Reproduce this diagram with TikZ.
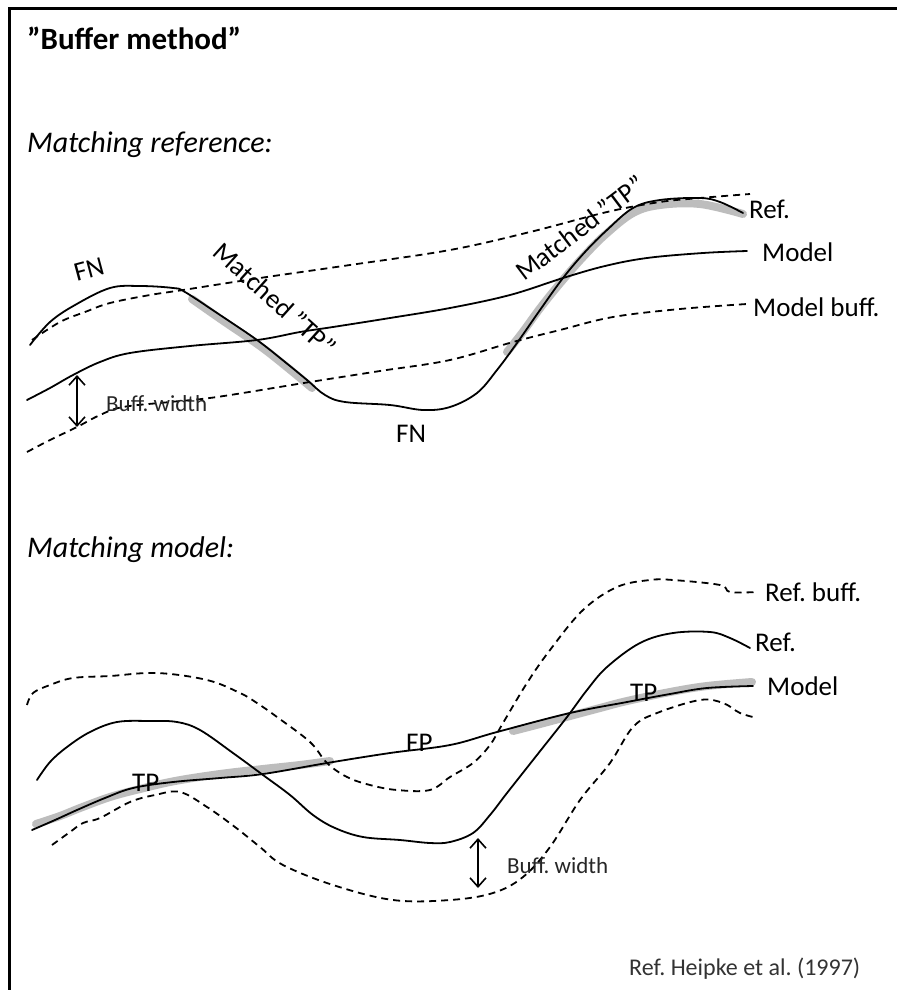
\documentclass[tikz,border=0pt]{standalone}
\usepackage{fontspec}
\setmainfont{Carlito}
\usetikzlibrary{arrows.meta}
\frenchspacing
\tikzset{
  curve/.style={line width=1.8pt, line join=round, line cap=round},
  dashcurve/.style={line width=1.8pt, dash pattern=on 7pt off 5pt},
  hilite/.style={line width=8pt, color=black!26, line cap=round, line join=round},
  lbl/.style={anchor=base west, inner sep=0pt, font=\fontsize{27}{30}\selectfont},
  rlbl/.style={inner sep=0pt, font=\fontsize{27}{30}\selectfont},
  small/.style={anchor=base west, inner sep=0pt, font=\fontsize{23}{25}\selectfont, text=black!85},
  bw/.style={line width=1.6pt, {Straight Barb[length=9pt,width=16pt]}-{Straight Barb[length=9pt,width=16pt]}}
}
\begin{document}
\begin{tikzpicture}[x=1pt,y=-1pt]
\useasboundingbox (0,0) rectangle (897,990);
\fill[white] (0,0) rectangle (897,990);
% frame
\draw[line width=3pt] (8,9) -- (897,9);
\draw[line width=3pt] (9,8) -- (9,990);

% titles
\node[anchor=base west, inner sep=0pt, font=\bfseries\fontsize{31}{34}\selectfont] (title) at (27,49) {”Buffer method”};
\node[anchor=base west, inner sep=0pt, font=\itshape\fontsize{30}{33}\selectfont] (sub1) at (27,152) {Matching reference:};
\node[anchor=base west, inner sep=0pt, font=\itshape\fontsize{30}{33}\selectfont] (sub2) at (27,557) {Matching model:};

% ---------- top panel ----------
% gray highlights
\draw[hilite] plot[smooth, tension=0.6] coordinates {(192,299) (222,320) (260,346) (288,368) (312,388)};
\draw[hilite] plot[smooth, tension=0.6] coordinates {(507,352) (522,333) (541,307) (562,281) (584,256) (606,234) (633,213) (660,205) (700,204) (743,214)};
% model buffer upper
\draw[dashcurve] plot[smooth, tension=0.6] coordinates {(32,340) (60,322) (85,312) (110,303) (150,295) (183,290) (260,278) (350,265) (450,250) (530,232) (607,212) (660,202) (700,198) (750,194)};
% model buffer lower
\draw[dashcurve] plot[smooth, tension=0.6] coordinates {(27,452) (50,440) (77,427) (100,415) (123,407) (170,402) (217,397) (310,382) (380,371) (450,360) (513,342) (560,330) (613,317) (680,309) (747,304)};
% model
\draw[curve] plot[smooth, tension=0.6] coordinates {(27,400) (50,388) (73,375) (100,362) (130,353) (190,346) (257,340) (300,332) (333,327) (390,318) (450,308) (510,295) (563,278) (605,266) (647,258) (703,253) (747,251)};
% reference
\draw[curve] plot[smooth, tension=0.6] coordinates {(30,345) (50,322) (75,305) (110,288) (140,286) (173,288) (185,292) (220,315) (257,340) (285,362) (307,380) (325,395) (345,402) (390,405) (423,410) (450,407) (477,393) (497,370) (517,343) (540,310) (563,278) (585,252) (607,230) (633,208) (660,200) (700,198) (720,202) (743,213)};
% buffer width arrow
\coordinate (bwa1) at (77,375);
\coordinate (bwa2) at (77,427);
\draw[bw] (bwa1) -- (bwa2);

% labels
\node[rlbl, rotate=15] (fn1) at (89,269) {FN};
\node[rlbl, rotate=-42] (mtp1) at (275,299) {Matched ”TP”};
\node[rlbl, rotate=37] (mtp2) at (580,228) {Matched ”TP”};
\node[lbl] (ref1) at (749,218) {Ref.};
\node[lbl] (mod1) at (762,261) {Model};
\node[lbl] (mb1) at (753,316) {Model buff.};
\node[small] (bw1) at (106,411) {Buff. width};
\node[lbl] (fn2) at (396,442) {FN};

% ---------- bottom panel ----------
% gray highlights on model
\draw[hilite] plot[smooth, tension=0.6] coordinates {(36,824) (60,816) (80,808) (110,797) (140,789) (175,781) (220,774) (263,769) (300,765) (330,761)};
\draw[hilite] plot[smooth, tension=0.6] coordinates {(513,731) (540,724) (570,716) (600,708) (627,701) (670,692) (707,686) (752,682)};
% ref buffer upper
\draw[dashcurve] plot[smooth, tension=0.6] coordinates {(27,705) (33,693) (50,685) (73,678) (110,676) (157,673) (207,680) (240,693) (257,703) (277,717) (310,742) (327,763) (347,777) (370,785) (397,790) (430,790) (450,777) (473,763) (490,745) (503,723) (527,683) (550,650) (583,610) (617,587) (650,580) (673,580) (720,585) (730,592) (757,592)};
% ref buffer lower
\draw[dashcurve] plot[smooth, tension=0.6] coordinates {(52,845) (70,832) (83,823) (100,818) (130,802) (155,795) (180,792) (207,807) (235,827) (260,847) (283,865) (333,885) (393,900) (450,900) (493,893) (523,877) (550,847) (580,800) (610,763) (633,727) (657,713) (700,700) (723,703) (740,713) (757,718)};
% model
\draw[curve] plot[smooth, tension=0.6] coordinates {(32,830) (55,820) (77,810) (105,798) (133,788) (173,782) (220,778) (263,774) (327,763) (390,753) (450,745) (497,732) (570,713) (627,702) (670,694) (707,688) (753,686)};
% reference
\draw[curve] plot[smooth, tension=0.6] coordinates {(37,780) (50,762) (67,747) (90,732) (117,722) (150,721) (177,722) (200,730) (233,753) (263,775) (290,795) (313,815) (335,828) (363,837) (400,840) (430,843) (450,842) (473,833) (490,815) (507,793) (537,755) (567,717) (587,690) (607,667) (640,643) (673,633) (710,632) (730,638) (750,648)};
% buffer width arrow
\coordinate (bwb1) at (478,838);
\coordinate (bwb2) at (478,888);
\draw[bw] (bwb1) -- (bwb2);

% labels
\node[lbl] (rb2) at (765,601) {Ref. buff.};
\node[lbl] (ref2) at (755,651) {Ref.};
\node[lbl] (mod2) at (767,695) {Model};
\node[lbl] (tp2) at (630,701) {TP};
\node[lbl] (fp) at (406,751) {FP};
\node[lbl] (tp1) at (132,791) {TP};
\node[small] (bw2) at (507,873) {Buff. width};
\node[anchor=base west, inner sep=0pt, font=\fontsize{24}{26}\selectfont, text=black!80] (cite) at (629,975) {Ref. Heipke et al. (1997)};
\end{tikzpicture}
\end{document}
